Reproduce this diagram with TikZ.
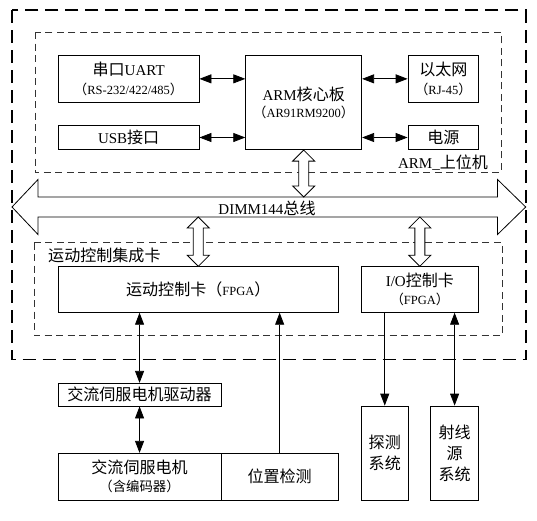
\documentclass[tikz,border=0pt]{standalone}
\usepackage{fontspec}
\setmainfont{Liberation Serif}
\newfontfamily\cjk[Scale=1.07]{Noto Sans CJK SC}
\usetikzlibrary{arrows.meta,calc}
\newcommand\mainf{\fontsize{15}{18}\selectfont}
\newcommand\subf{\fontsize{12.5}{15}\selectfont}
\newcommand\hollowarrow[2]{%
  \draw[hollow] (#1) -- ++(11,11) -- ++(-6,0) -- ($(#2)+(5,-11)$) -- ++(6,0) -- (#2)
    -- ++(-11,-11) -- ++(6,0) -- ($(#1)+(-5,11)$) -- ++(-6,0) -- cycle;}
\begin{document}
\begin{tikzpicture}[x=1pt,y=-1pt,
  box/.style={draw, line width=0.8pt, inner sep=0pt, align=center, font=\mainf},
  outerd/.style={draw, line width=1.8pt, dash pattern=on 13pt off 7pt},
  innerd/.style={draw=black!80, line width=0.9pt, dash pattern=on 7pt off 4.5pt},
  hollow/.style={draw, fill=white, line width=0.8pt, line join=miter},
  dar/.style={line width=0.8pt, {Triangle[length=12pt,width=9pt]}-{Triangle[length=12pt,width=9pt]}},
  sar/.style={line width=0.8pt, -{Triangle[length=12pt,width=9pt]}},
  lbl/.style={font=\mainf, inner sep=0pt}]
\useasboundingbox (0,0) rectangle (537,520);

% dashed frames
\draw[outerd] (12,10) rectangle (525.7,359.5);
\draw[innerd] (35,32) rectangle (501,172.7);
\draw[innerd] (34.3,242.5) rectangle (502,335.7);

% ARM area boxes
\node[box, minimum width=140.7, minimum height=46.3] (uart) at (128.65,78.85)
  {{\cjk 串口}UART\\[1pt]{\subf\cjk （\rmfamily RS-232/422/485\cjk ）}};
\node[box, minimum width=140.7, minimum height=23.6] (usb) at (128.65,137.5) {USB{\cjk 接口}};
\node[box, minimum width=116, minimum height=94] (arm) at (303.7,102.7)
  {ARM{\cjk 核心板}\\[-1pt]{\subf\cjk （\rmfamily AR91RM9200\cjk ）}};
\node[box, minimum width=70.7, minimum height=46.3] (eth) at (443.35,78.85)
  {{\cjk 以太网}\\[1pt]{\subf\cjk （\rmfamily RJ-45\cjk ）}};
\node[box, minimum width=70.7, minimum height=23.6] (pwr) at (443.35,137.5) {\cjk 电源};
\node[lbl] (armlbl) at (443,163) {ARM\_{\cjk 上位机}};

\draw[dar] (uart.east) -- (arm.west |- uart.east);
\draw[dar] (usb.east) -- (arm.west |- usb.east);
\draw[dar] (arm.east |- eth.west) -- (eth.west);
\draw[dar] (arm.east |- pwr.west) -- (pwr.west);

% bus
\coordinate (busT) at (0,197);
\coordinate (busB) at (0,217);
\draw[hollow] (12,207) -- (38,179.5) -- (38,197) -- (497.5,197) -- (497.5,179.5) -- (525.7,207)
  -- (497.5,234.5) -- (497.5,217) -- (38,217) -- (38,234.5) -- cycle;
\node[lbl] (busl) at (267,208) {DIMM144{\cjk 总线}};

% motion control card area
\node[lbl, anchor=west] (mclbl) at (48,255) {\cjk 运动控制集成卡};
\node[box, minimum width=280.2, minimum height=45.6] (motion) at (198.3,289.5)
  {{\cjk 运动控制卡（}{\subf FPGA}{\cjk ）}};
\node[box, minimum width=117.1, minimum height=45.6] (io) at (419.85,289.5)
  {I/O{\cjk 控制卡}\\[0pt]{\subf\cjk （\rmfamily FPGA\cjk ）}};

\coordinate (a1) at (arm.south |- busT);
\coordinate (m1) at (motion.north |- busB);
\coordinate (i1) at (io.north |- busB);
\hollowarrow{arm.south}{a1}
\hollowarrow{m1}{motion.north}
\hollowarrow{i1}{io.north}

% lower boxes
\node[box, minimum width=162.7, minimum height=22.7] (drv) at (139.55,394.65) {\cjk 交流伺服电机驱动器};
\node[box, minimum width=162.7, minimum height=46.7] (motor) at (139.55,476.65)
  {{\cjk 交流伺服电机}\\[0pt]{\subf\cjk （含编码器）}};
\node[box, minimum width=117.5, minimum height=46.7] (pos) at (279.65,476.65) {\cjk 位置检测};
\node[box, minimum width=46.9, minimum height=94] (det) at (384.75,453)
  {\cjk 探测\\[3pt]\cjk 系统};
\node[box, minimum width=47.6, minimum height=94] (ray) at (454.6,453)
  {\cjk 射线\\[3pt]\cjk 源\\[3pt]\cjk 系统};

\draw[dar] (drv.north |- motion.south) -- (drv.north);
\draw[dar] (drv.south) -- (motor.north);
\draw[sar] (pos.north) -- (pos.north |- motion.south);
\draw[sar] (det.north |- io.south) -- (det.north);
\draw[dar] (ray.north |- io.south) -- (ray.north);
\end{tikzpicture}
\end{document}
